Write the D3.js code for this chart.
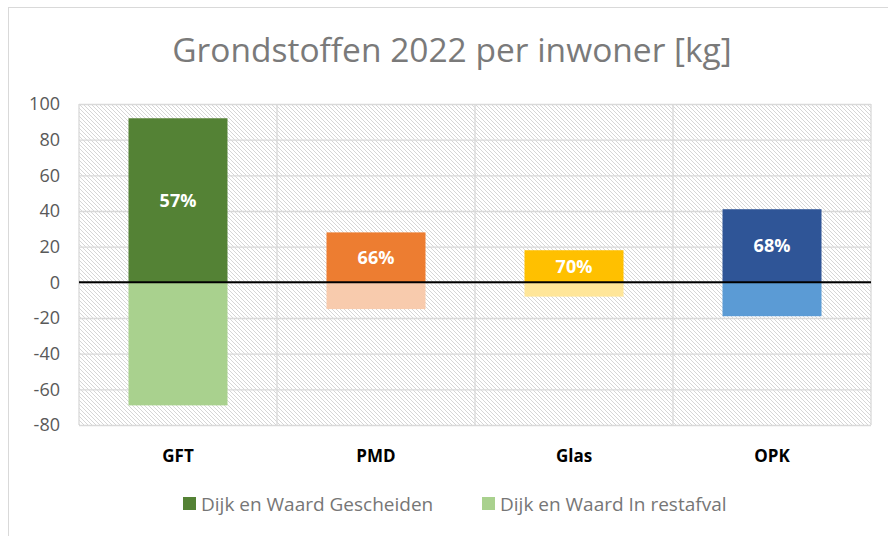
<!DOCTYPE html>
<html>
<head>
<meta charset="utf-8">
<script src="https://cdn.jsdelivr.net/npm/d3@7"></script>
<style>
  body { margin: 0; background: #fff; }
  text { font-family: "Open Sans", "Noto Sans", sans-serif; }
</style>
</head>
<body>
<div id="chart"></div>
<script>
// data
var categories = ['GFT', 'PMD', 'Glas', 'OPK'];
var separated = [92, 28, 18, 41];      // Dijk en Waard Gescheiden
var residual = [-69, -15, -8, -19];    // Dijk en Waard In restafval
var shares = ['57%', '66%', '70%', '68%'];
var yTicks = [100, 80, 60, 40, 20, 0, -20, -40, -60, -80];
var seriesNames = ['Dijk en Waard Gescheiden', 'Dijk en Waard In restafval'];

var darkColors = ['#548235', '#ED7D31', '#FFC000', '#2F5597'];
var lightColors = ['#A9D18E', '#F8CBAD', '#FFE699', '#5B9BD5'];

var svgWidth = 888;
var svgHeight = 536;
var margin = {top: 104, right: 17, bottom: 111, left: 79};
var width = svgWidth - margin.left - margin.right;
var height = svgHeight - margin.top - margin.bottom;

var svg = d3.select('#chart').append('svg')
    .attr('width', svgWidth)
    .attr('height', svgHeight);

// outer frame
svg.append('rect')
    .attr('x', 8.5).attr('y', 7.5)
    .attr('width', svgWidth).attr('height', svgHeight)
    .attr('fill', 'none')
    .attr('stroke', '#d9d9d9');

var defs = svg.append('defs');
var pat = defs.append('pattern')
    .attr('id', 'hatch')
    .attr('patternUnits', 'userSpaceOnUse')
    .attr('width', 4).attr('height', 4);
pat.append('rect').attr('width', 4).attr('height', 4).attr('fill', '#fff');
pat.append('path')
    .attr('d', 'M-1,-1 L5,5 M-1,3 L1,5 M3,-1 L5,1')
    .attr('stroke', '#d6d6d6')
    .attr('stroke-width', 1);

svg.append('text')
    .attr('x', 452).attr('y', 62)
    .attr('text-anchor', 'middle')
    .attr('font-size', '33.5px')
    .attr('fill', '#7a7a7a')
    .text('Grondstoffen 2022 per inwoner [kg]');

var g = svg.append('g')
    .attr('transform', `translate(${margin.left}, ${margin.top})`);

var x = d3.scaleBand()
    .domain(categories)
    .range([0, width])
    .paddingInner(0.5)
    .paddingOuter(0.25);

var y = d3.scaleLinear()
    .domain([-80, 100])
    .range([height, 0]);

g.append('rect')
    .attr('width', width).attr('height', height)
    .attr('fill', 'url(#hatch)');

// horizontal gridlines
g.append('g')
    .attr('class', 'grid')
    .call(d3.axisLeft(y).tickValues(yTicks).tickSize(-width).tickFormat(''))
    .call(s => s.select('.domain').remove())
    .call(s => s.selectAll('line').attr('stroke', '#d9d9d9').attr('stroke-width', 1.3));

// vertical gridlines at category borders
var step = width / categories.length;
g.selectAll('.vgrid')
    .data(d3.range(categories.length + 1))
    .enter().append('line')
    .attr('x1', d => d * step).attr('x2', d => d * step)
    .attr('y1', 0).attr('y2', height)
    .attr('stroke', '#d9d9d9').attr('stroke-width', 1.3);

// y tick labels (plain hyphen for negatives, like the original)
g.append('g')
    .call(d3.axisLeft(y).tickValues(yTicks).tickSize(0).tickPadding(19).tickFormat(d => String(d)))
    .call(s => s.select('.domain').remove())
    .call(s => s.selectAll('text')
        .attr('font-size', '18px')
        .attr('fill', '#595959')
        .style('font-family', '"Open Sans", sans-serif'));

// bars
g.selectAll('.pos')
    .data(separated)
    .enter().append('rect')
    .attr('x', (d, i) => x(categories[i]))
    .attr('y', d => y(d))
    .attr('width', x.bandwidth())
    .attr('height', d => y(0) - y(d))
    .attr('fill', (d, i) => darkColors[i]);

g.selectAll('.neg')
    .data(residual)
    .enter().append('rect')
    .attr('x', (d, i) => x(categories[i]))
    .attr('y', y(0))
    .attr('width', x.bandwidth())
    .attr('height', d => y(d) - y(0))
    .attr('fill', (d, i) => lightColors[i]);

g.selectAll('.share')
    .data(shares)
    .enter().append('text')
    .attr('x', (d, i) => x(categories[i]) + x.bandwidth() / 2)
    .attr('y', (d, i) => (y(separated[i]) + y(0)) / 2)
    .attr('dy', '0.35em')
    .attr('text-anchor', 'middle')
    .attr('font-size', '18px')
    .attr('font-weight', 'bold')
    .attr('fill', '#fff')
    .text(d => d);

// zero line
g.append('line')
    .attr('x1', 0).attr('x2', width)
    .attr('y1', y(0)).attr('y2', y(0))
    .attr('stroke', '#000').attr('stroke-width', 2);

// category labels
g.selectAll('.cat')
    .data(categories)
    .enter().append('text')
    .attr('x', d => x(d) + x.bandwidth() / 2)
    .attr('y', height + 37)
    .attr('text-anchor', 'middle')
    .attr('font-size', '17px')
    .attr('font-weight', 'bold')
    .attr('fill', '#000')
    .text(d => d);

// legend
var legend = svg.append('g');
var legendX = [183, 482];
seriesNames.forEach(function(name, i) {
    var item = legend.append('g')
        .attr('transform', `translate(${legendX[i]}, 504)`);
    item.append('rect')
        .attr('x', 0).attr('y', -7)
        .attr('width', 13).attr('height', 13)
        .attr('fill', i === 0 ? darkColors[0] : lightColors[0]);
    item.append('text')
        .attr('x', 18).attr('y', 0)
        .attr('dy', '0.35em')
        .attr('font-size', '19px')
        .attr('fill', '#767676')
        .text(name);
});
</script>
</body>
</html>
